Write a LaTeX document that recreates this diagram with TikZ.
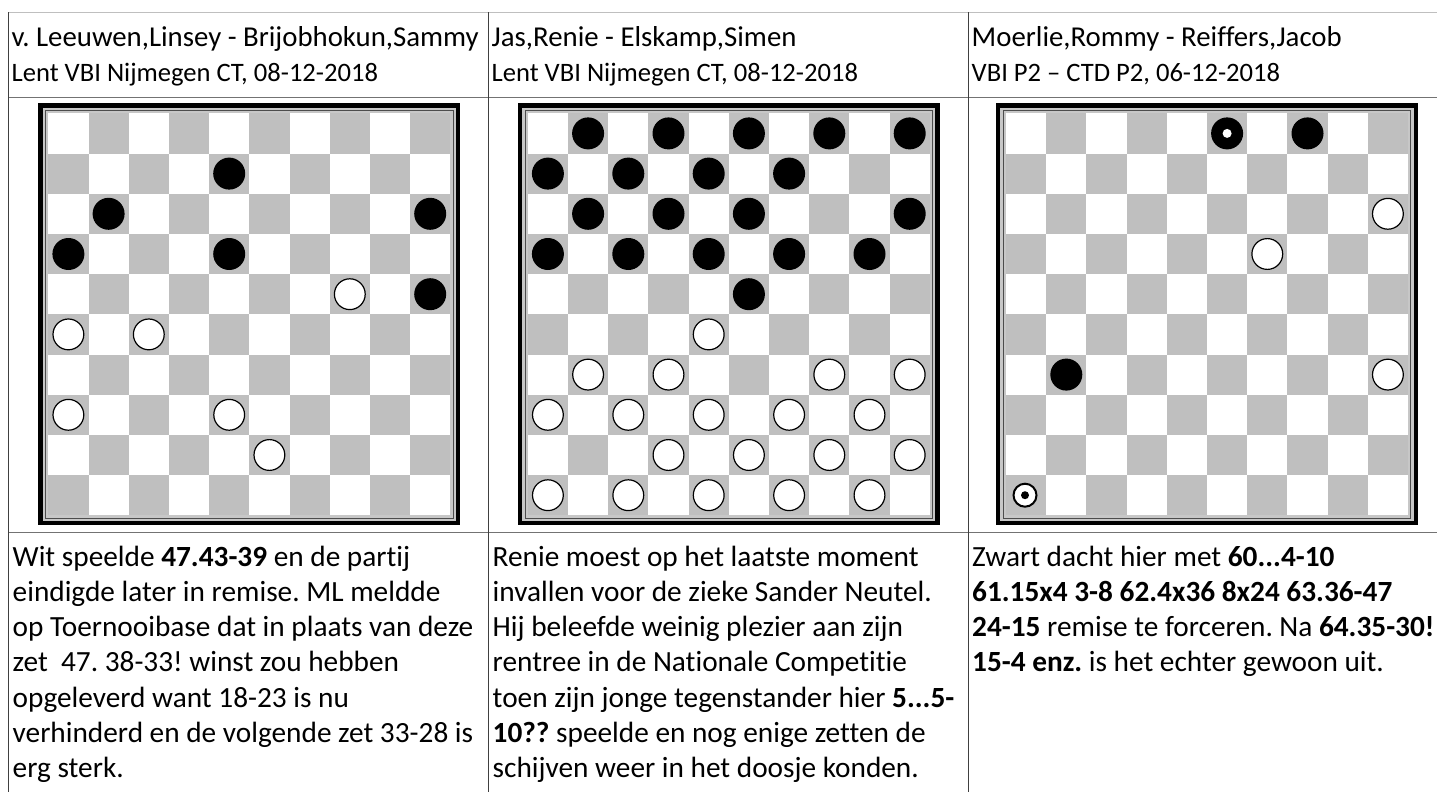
\documentclass[tikz,border=0pt]{standalone}
\usepackage{fontspec}
\setmainfont{Carlito}[Ligatures=NoCommon]
\usepackage{xcolor}
\usetikzlibrary{positioning}
\frenchspacing

\begin{document}
\begin{tikzpicture}[x=1pt, y=-1pt,
  rule/.style={line width=1pt},
  head/.style={anchor=base west, inner sep=0pt, font=\fontsize{28.8}{34}\selectfont},
  sub/.style={anchor=base west, inner sep=0pt, font=\fontsize{26.6}{32}\selectfont},
  body/.style={anchor=base west, inner sep=0pt, font=\fontsize{29.3}{35}\selectfont},
  dark/.style={fill=black!25},
  bpiece/.style={fill=black},
  wpiece/.style={fill=white, draw=black, line width=1.2pt}]
\useasboundingbox (0,0) rectangle (1437,792);

% table rules
\draw[rule, black!25] (8.5,12.5) -- (1437,12.5);
\draw[rule, black!55] (8.5,97.5) -- (1437,97.5);
\draw[rule, black!55] (8.5,532) -- (1437,532);
\foreach \x in {8.5, 488.5, 968.5}
  \draw[rule, black!75] (\x,12.5) -- (\x,792);

% headers
\node[head] (name1) at (11.5,46.5) {v. Leeuwen,Linsey - Brijobhokun,Sammy};
\node[sub] (event1) at (11.5,81.5) {Lent VBI Nijmegen CT, 08-12-2018};
\node[head] (name2) at (491.5,46.5) {Jas,Renie - Elskamp,Simen};
\node[sub] (event2) at (491.5,81.5) {Lent VBI Nijmegen CT, 08-12-2018};
\node[head] (name3) at (971.5,46.5) {Moerlie,Rommy - Reiffers,Jacob};
\node[sub] (event3) at (971.5,81.5) {VBI P2 – CTD P2, 06-12-2018};

% boards: frame and squares
\foreach \bx in {48.3, 527.8, 1006} {
  \begin{scope}[shift={(\bx,113.3)}]
    \fill[black] (-10,-10) rectangle (412,412);
    \fill[black!22] (-5.6,-5.6) rectangle (407.6,407.6);
    \draw[black!70, line width=1pt] (-2.8,-2.8) rectangle (404.8,404.8);
    \fill[white] (0,0) rectangle (402,402);
    \foreach \r in {0,...,9}
      \foreach \c in {0,...,9} {
        \ifodd\numexpr\r+\c\relax
          \fill[dark] (\c*40.2,\r*40.2) rectangle ++(40.2,40.2);
        \fi
      }
  \end{scope}
}

% board 1
\begin{scope}[shift={(48.3,113.3)}]
\foreach \r/\c in {1/4, 2/1, 2/9, 3/0, 3/4, 4/9}
  \fill[bpiece] (\c*40.2+20.1,\r*40.2+20.1) circle (16);
\foreach \r/\c in {4/7, 5/0, 5/2, 7/0, 7/4, 8/5}
  \draw[wpiece] (\c*40.2+20.1,\r*40.2+20.1) circle (15.4);
\end{scope}

% board 2
\begin{scope}[shift={(527.8,113.3)}]
\foreach \r/\c in {0/1, 0/3, 0/5, 0/7, 0/9, 1/0, 1/2, 1/4, 1/6, 2/1, 2/3, 2/5, 2/9,
                   3/0, 3/2, 3/4, 3/6, 3/8, 4/5}
  \fill[bpiece] (\c*40.2+20.1,\r*40.2+20.1) circle (16);
\foreach \r/\c in {5/4, 6/1, 6/3, 6/7, 6/9, 7/0, 7/2, 7/4, 7/6, 7/8,
                   8/3, 8/5, 8/7, 8/9, 9/0, 9/2, 9/4, 9/6, 9/8}
  \draw[wpiece] (\c*40.2+20.1,\r*40.2+20.1) circle (15.4);
\end{scope}

% board 3 (with kings)
\begin{scope}[shift={(1006,113.3)}]
\foreach \r/\c in {0/5, 0/7, 6/1}
  \fill[bpiece] (\c*40.2+20.1,\r*40.2+20.1) circle (16);
\fill[white] (5*40.2+20.1,20.1) circle (4.5);
\foreach \r/\c in {2/9, 3/6, 6/9}
  \draw[wpiece] (\c*40.2+20.1,\r*40.2+20.1) circle (15.4);
\draw[wpiece, line width=2pt] (19,9*40.2+20.1) circle (11.5);
\fill[black] (19,9*40.2+20.1) circle (4);
\end{scope}

% comments below the boards
\foreach \txt [count=\i] in {
  {Wit speelde \textbf{47.43-39} en de partij},
  {eindigde later in remise. ML meldde},
  {op Toernooibase dat in plaats van deze},
  {zet\ \ 47. 38-33! winst zou hebben},
  {opgeleverd want 18-23 is nu},
  {verhinderd en de volgende zet 33-28 is},
  {erg sterk.}}
  \node[body] (note1-\i) at (12.5,{566+35.3*(\i-1)}) {\txt};

\foreach \txt [count=\i] in {
  {Renie moest op het laatste moment},
  {invallen voor de zieke Sander Neutel.},
  {Hij beleefde weinig plezier aan zijn},
  {rentree in de Nationale Competitie},
  {toen zijn jonge tegenstander hier \textbf{5...5-}},
  {\textbf{10??} speelde en nog enige zetten de},
  {schijven weer in het doosje konden.}}
  \node[body] (note2-\i) at (492.5,{566+35.3*(\i-1)}) {\txt};

\foreach \txt [count=\i] in {
  {Zwart dacht hier met \textbf{60...4-10}},
  {\textbf{61.15x4 3-8 62.4x36 8x24 63.36-47}},
  {\textbf{24-15} remise te forceren. Na \textbf{64.35-30!}},
  {\textbf{15-4 enz.} is het echter gewoon uit.}}
  \node[body] (note3-\i) at (972,{566+35.3*(\i-1)}) {\txt};

\end{tikzpicture}
\end{document}
